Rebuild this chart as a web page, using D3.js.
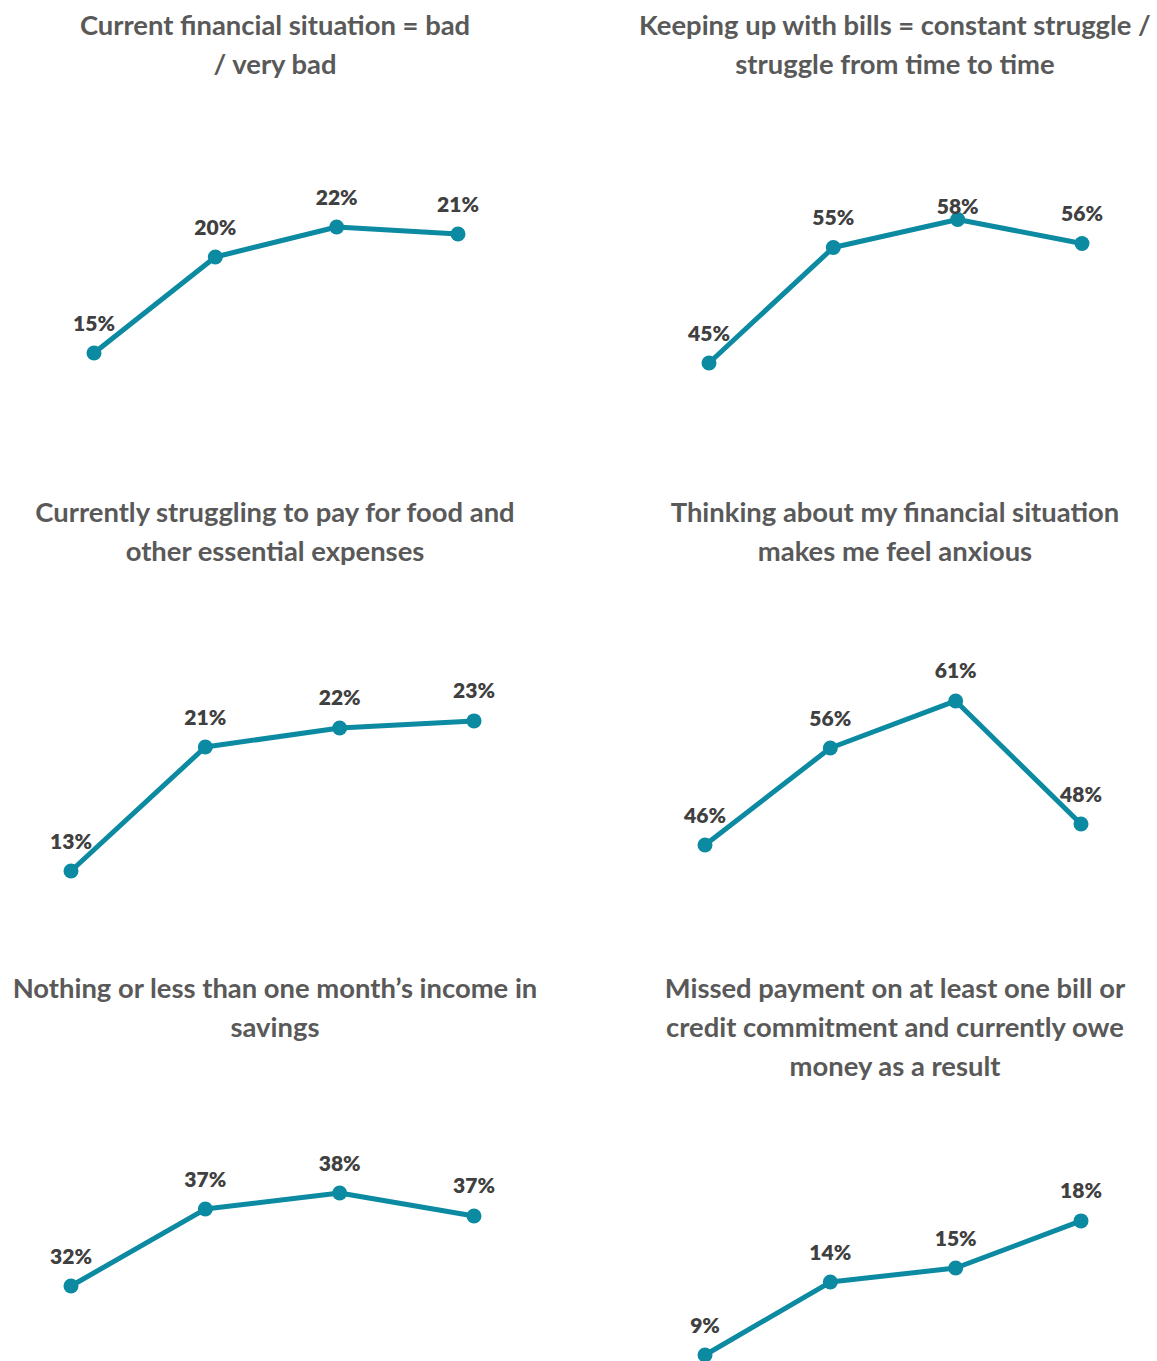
<!DOCTYPE html>
<html>
<head>
<meta charset="utf-8">
<script src="https://cdn.jsdelivr.net/npm/d3@7"></script>
<style>
  html, body { margin: 0; padding: 0; background: #ffffff; }
  svg { display: block; }
</style>
</head>
<body>
<svg id="chart" width="1157" height="1361"></svg>
<script>
// ---- DATA ----
const waves = ["W1", "W2", "W3", "W4"];

const titles = [
  ["Current financial situation = bad", "/ very bad"],
  ["Keeping up with bills = constant struggle /", "struggle from time to time"],
  ["Currently struggling to pay for food and", "other essential expenses"],
  ["Thinking about my financial situation", "makes me feel anxious"],
  ["Nothing or less than one month\u2019s income in", "savings"],
  ["Missed payment on at least one bill or", "credit commitment and currently owe", "money as a result"]
];

const financialBad     = [15.4, 20.2, 21.7, 21.35];
const billsStruggle    = [44.8, 55.3, 57.85, 55.67];
const foodStruggle     = [13.3, 21.05, 22.24, 22.68];
const anxious          = [46, 56, 60.85, 48.16];
const lowSavings       = [32.2, 37.33, 38.4, 36.87];
const missedPayment    = [9.1, 14.13, 15.1, 18.35];

const seriesList = [financialBad, billsStruggle, foodStruggle, anxious, lowSavings, missedPayment];

// ---- LAYOUT (positions only) ----
const layout = [
  { cx: 275, titleY: 24,  x0: 94,  x1: 458,  yRef: 353,  pxPerPct: 20,  labelMin: 0 },
  { cx: 895, titleY: 24,  x0: 709, x1: 1082, yRef: 363,  pxPerPct: 11,  labelMin: 205 },
  { cx: 275, titleY: 511, x0: 71,  x1: 474,  yRef: 871,  pxPerPct: 16,  labelMin: 0 },
  { cx: 895, titleY: 511, x0: 705, x1: 1081, yRef: 845,  pxPerPct: 9.7, labelMin: 0 },
  { cx: 275, titleY: 987, x0: 71,  x1: 474,  yRef: 1286, pxPerPct: 15,  labelMin: 0 },
  { cx: 895, titleY: 987, x0: 705, x1: 1081, yRef: 1355, pxPerPct: 14.5,labelMin: 0 }
];

const lineColor = "#0b8aa2";
const titleColor = "#595959";
const labelColor = "#404040";
const fontFam = "Lato, 'Open Sans', 'Noto Sans', sans-serif";

const svg = d3.select("#chart");

seriesList.forEach((vals, i) => {
  const L = layout[i];
  const g = svg.append("g");

  // title
  const t = g.append("text")
    .attr("text-anchor", "middle")
    .attr("font-family", fontFam)
    .attr("font-weight", 700)
    .attr("font-size", 27.4)
    .attr("fill", titleColor);
  titles[i].forEach((line, k) => {
    t.append("tspan")
      .attr("x", L.cx)
      .attr("y", L.titleY + k * 39)
      .attr("dominant-baseline", "central")
      .text(line);
  });

  const x = d3.scalePoint().domain(waves).range([L.x0, L.x1]);
  const v0 = vals[0];
  const y = d3.scaleLinear().domain([v0, v0 + 10]).range([L.yRef, L.yRef - 10 * L.pxPerPct]);

  const data = waves.map((w, k) => ({ w, v: vals[k] }));

  g.append("path")
    .datum(data)
    .attr("fill", "none")
    .attr("stroke", lineColor)
    .attr("stroke-width", 5)
    .attr("stroke-linejoin", "round")
    .attr("d", d3.line().x(d => x(d.w)).y(d => y(d.v)));

  g.selectAll("circle")
    .data(data)
    .join("circle")
    .attr("cx", d => x(d.w))
    .attr("cy", d => y(d.v))
    .attr("r", 7.5)
    .attr("fill", lineColor);

  g.selectAll("text.lbl")
    .data(data)
    .join("text")
    .attr("class", "lbl")
    .attr("x", d => x(d.w))
    .attr("y", d => Math.max(y(d.v) - 31, L.labelMin))
    .attr("text-anchor", "middle")
    .attr("dominant-baseline", "central")
    .attr("font-family", fontFam)
    .attr("font-weight", 800)
    .attr("font-size", 21)
    .attr("fill", labelColor)
    .text(d => Math.round(d.v) + "%");
});
</script>
</body>
</html>
